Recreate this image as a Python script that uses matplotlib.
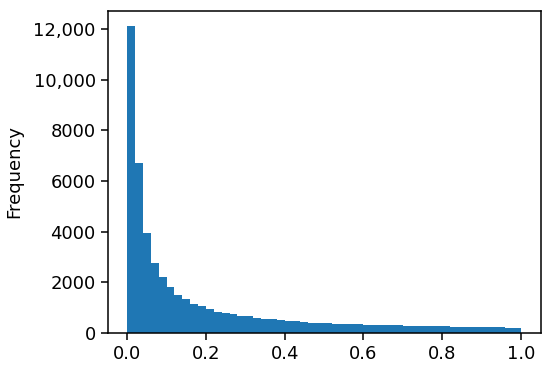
import matplotlib
matplotlib.use("Agg")
import matplotlib.pyplot as plt
import numpy as np
from matplotlib.ticker import FuncFormatter

bin_edges = [round(i * 0.02, 2) for i in range(51)]
counts = [12130, 6690, 3950, 2770, 2190, 1790, 1480, 1340, 1120, 1040,
          950, 820, 790, 740, 670, 650, 580, 560, 530, 500,
          450, 460, 410, 400, 400, 370, 360, 350, 330, 330,
          320, 310, 300, 290, 290, 280, 270, 260, 260, 250,
          260, 240, 230, 240, 220, 230, 210, 220, 200, 190]
y_label = "Frequency"

fig = plt.figure(figsize=(5.5, 3.72), dpi=100)
left, right, top, bottom = 107.5, 540.5, 10.5, 332.7
ax = fig.add_axes([left/550, 1 - bottom/372, (right-left)/550, (bottom-top)/372])
ax.hist(bin_edges[:-1], bins=bin_edges, weights=counts, color="#1f77b4")
ax.set_ylabel(y_label, fontsize=13, labelpad=7)
ax.set_yticks([0, 2000, 4000, 6000, 8000, 10000, 12000])
ax.yaxis.set_major_formatter(FuncFormatter(lambda v, p: f"{int(v):,}" if v >= 10000 else f"{int(v)}"))
ax.set_xticks([0.0, 0.2, 0.4, 0.6, 0.8, 1.0])
ax.tick_params(labelsize=13, length=5, width=1.1)
for s in ax.spines.values():
    s.set_linewidth(1.1)
fig.savefig("out.png", dpi=100)
